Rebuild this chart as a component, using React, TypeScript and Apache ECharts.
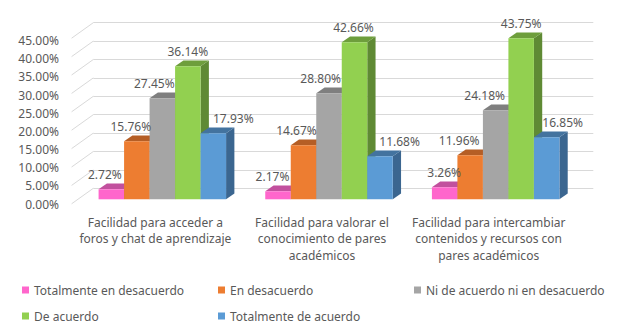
import React, { useEffect, useRef } from "react";
import * as echarts from "echarts";

// ---------- data ----------
const categories = [
  "Facilidad para acceder a\nforos y chat de aprendizaje",
  "Facilidad para valorar el\nconocimiento de pares\nacadémicos",
  "Facilidad para intercambiar\ncontenidos y recursos con\npares académicos",
];
const seriesNames = [
  "Totalmente en desacuerdo",
  "En desacuerdo",
  "Ni de acuerdo ni en desacuerdo",
  "De acuerdo",
  "Totalmente de acuerdo",
];
const totalmenteEnDesacuerdo = [2.72, 2.17, 3.26];
const enDesacuerdo = [15.76, 14.67, 11.96];
const niDeAcuerdoNiEnDesacuerdo = [27.45, 28.8, 24.18];
const deAcuerdo = [36.14, 42.66, 43.75];
const totalmenteDeAcuerdo = [17.93, 11.68, 16.85];
const yTicks = [0, 5, 10, 15, 20, 25, 30, 35, 40, 45];

const seriesValues = [
  totalmenteEnDesacuerdo,
  enDesacuerdo,
  niDeAcuerdoNiEnDesacuerdo,
  deAcuerdo,
  totalmenteDeAcuerdo,
];

// ---------- styles ----------
const frontColors = ["#FF66CC", "#ED7D31", "#A5A5A5", "#92D050", "#5B9BD5"];
const topColors = ["#C2509E", "#B55E25", "#7F7F7F", "#6E9E3C", "#43739F"];
const sideColors = ["#B0488F", "#A35420", "#727272", "#5F8A34", "#3B6690"];
const labelDx = [
  [-6.5, -5.5, -0.5],
  [-6, -7, -11],
  [-8, -8.3, -11],
  [0, -1, 0],
  [20, 19.6, 16],
];
const FONT = "'Noto Sans', sans-serif";
const TEXT_COLOR = "#595959";
const GRID_COLOR = "#D9D9D9";
const BAR_W = 25.5;
const DEPTH_X = 8.3;
const DEPTH_Y = -5.7;
const PLANE_DX = -14.3; // bar plane offset from back wall
const PLANE_DY = 11;
const SIDE_DX = -21.7; // side wall depth
const SIDE_DY = 15.5;

export default function App() {
  const ref = useRef<HTMLDivElement>(null);

  useEffect(() => {
    if (!ref.current) return;
    const chart = echarts.init(ref.current, null, { renderer: "svg" });

    const barSeries = seriesValues.map((vals, si) => ({
      type: "custom",
      name: seriesNames[si],
      xAxisIndex: 0,
      yAxisIndex: 0,
      itemStyle: { color: frontColors[si] },
      encode: { x: 0, y: 1 },
      data: vals.map((v, ci) => [ci, v]),
      renderItem: (params: any, api: any) => {
        const c = api.value(0);
        const v = api.value(1);
        const pt = api.coord([c, v]);
        const base = api.coord([c, 0]);
        const xc = pt[0] + PLANE_DX + (si - 2) * BAR_W;
        const yTop = pt[1] + PLANE_DY;
        const yBot = base[1] + PLANE_DY;
        const l = xc - BAR_W / 2;
        const r = xc + BAR_W / 2;
        return {
          type: "group",
          children: [
            {
              type: "polygon",
              shape: {
                points: [
                  [r, yTop],
                  [r + DEPTH_X, yTop + DEPTH_Y],
                  [r + DEPTH_X, yBot + DEPTH_Y],
                  [r, yBot],
                ],
              },
              style: { fill: sideColors[si] },
            },
            {
              type: "polygon",
              shape: {
                points: [
                  [l, yTop],
                  [r, yTop],
                  [r + DEPTH_X, yTop + DEPTH_Y],
                  [l + DEPTH_X, yTop + DEPTH_Y],
                ],
              },
              style: { fill: topColors[si] },
            },
            {
              type: "rect",
              shape: { x: l, y: yTop, width: BAR_W, height: yBot - yTop },
              style: { fill: frontColors[si] },
            },
            {
              type: "text",
              z2: 100,
              x: xc + labelDx[si][c],
              y: yTop - 14.4,
              style: {
                text: v.toFixed(2) + "%",
                align: "center",
                verticalAlign: "middle",
                fill: TEXT_COLOR,
                fontSize: 12,
                fontFamily: FONT,
              },
            },
          ],
        };
      },
    }));

    const wallSeries = {
      type: "custom",
      name: "wall",
      silent: true,
      xAxisIndex: 0,
      yAxisIndex: 0,
      encode: { x: 0, y: 1 },
      data: yTicks.map((t) => [0, t]),
      renderItem: (params: any, api: any) => {
        const cs = params.coordSys;
        const p = api.coord([0, api.value(1)]);
        return {
          type: "line",
          shape: { x1: cs.x, y1: p[1], x2: cs.x + SIDE_DX, y2: p[1] + SIDE_DY },
          style: { stroke: GRID_COLOR, lineWidth: 1 },
        };
      },
    };

    chart.setOption({
      animation: false,
      backgroundColor: "#FFFFFF",
      color: frontColors,
      textStyle: { fontFamily: FONT },
      grid: [
        { left: 93.3, right: 36.7, top: 22.7, bottom: 146.7 },
        { left: 93.3, right: 36.7, top: 40.7, bottom: 131 },
      ],
      xAxis: [
        {
          type: "category",
          gridIndex: 0,
          data: categories,
          axisLine: { show: false },
          axisTick: { show: false },
          splitLine: { show: false },
          axisLabel: {
            interval: 0,
            margin: 25.7,
            color: TEXT_COLOR,
            fontSize: 12,
            lineHeight: 16.5,
            fontFamily: FONT,
            align: "center",
            padding: [0, 42.6, 0, 0],
          },
        },
        {
          type: "category",
          gridIndex: 1,
          data: categories,
          show: false,
        },
      ],
      yAxis: [
        {
          type: "value",
          gridIndex: 0,
          min: 0,
          max: 45,
          interval: 5,
          axisLine: { show: false },
          axisTick: { show: false },
          axisLabel: { show: false },
          splitLine: { show: true, lineStyle: { color: GRID_COLOR, width: 1 } },
        },
        {
          type: "value",
          gridIndex: 1,
          min: 0,
          max: 45,
          interval: 5,
          axisLine: { show: false },
          axisTick: { show: false },
          splitLine: { show: false },
          axisLabel: {
            margin: 34.3,
            color: TEXT_COLOR,
            fontSize: 12,
            fontFamily: FONT,
            showMinLabel: true,
            showMaxLabel: true,
            formatter: (v: number) => v.toFixed(2) + "%",
          },
        },
      ],
      legend: {
        data: seriesNames,
        left: 22,
        top: 277,
        width: 600,
        padding: 0,
        itemGap: 0,
        itemWidth: 7,
        itemHeight: 7,
        icon: "rect",
        textStyle: {
          width: 184,
          lineHeight: 26,
          fontSize: 12,
          color: TEXT_COLOR,
          fontFamily: FONT,
        },
      },
      series: [wallSeries, ...barSeries],
    });

    return () => chart.dispose();
  }, []);

  return (
    <div
      ref={ref}
      style={{ position: "fixed", left: 0, top: 0, width: 630, height: 335, background: "#fff" }}
    />
  );
}
